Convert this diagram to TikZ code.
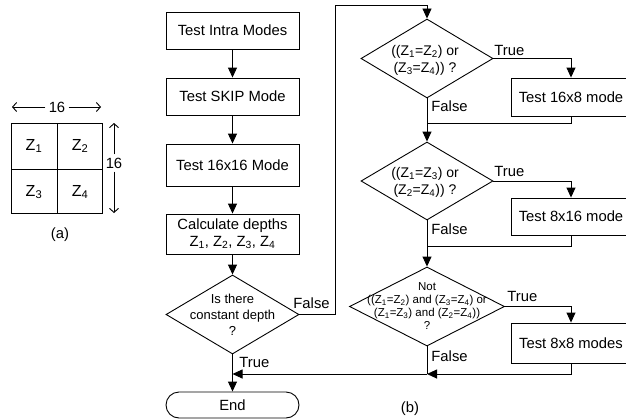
\documentclass[tikz,border=0pt]{standalone}
\usepackage{fontspec}
\setmainfont{Liberation Sans}
\usetikzlibrary{arrows.meta,shapes.geometric,calc}
\newcommand{\zz}[1]{Z\textsubscript{#1}}
\begin{document}
\begin{tikzpicture}[x=1pt,y=-1pt,line width=0.9pt,
  arr/.style={-{Triangle[length=10pt,width=9pt]}},
  barb/.style={-{Straight Barb[length=4pt,width=9pt]}},
  mainfont/.style={font=\fontsize{14.8}{17}\selectfont},
  box/.style={draw,mainfont,minimum width=133pt,inner sep=0pt,align=center},
  rbox/.style={draw,mainfont,minimum width=120pt,inner sep=0pt,align=center},
  dia/.style={draw,diamond,inner sep=0pt,minimum width=133pt,minimum height=79pt},
  lbl/.style={mainfont,inner sep=1pt},
  cellz/.style={font=\fontsize{16}{18}\selectfont,inner sep=0pt}
]
\useasboundingbox (0,0) rectangle (626,420);

% (a) grid
\draw (11,123) rectangle (102,213);
\draw (57,123) -- (57,213);
\draw (11,169) -- (102,169);
\node[cellz] (z1) at (34,146) {\zz{1}};
\node[cellz] (z2) at (80,146) {\zz{2}};
\node[cellz] (z3) at (34,192) {\zz{3}};
\node[cellz] (z4) at (80,192) {\zz{4}};
\node[mainfont,inner sep=3pt] (h16) at (57,107) {16};
\coordinate (hl) at (12,107);
\coordinate (hr) at (101,107);
\draw[barb] (h16.west) -- (hl);
\draw[barb] (h16.east) -- (hr);
\node[mainfont,inner sep=3pt] (v16) at (114,163) {16};
\coordinate (vt) at (114,123);
\coordinate (vb) at (114,213);
\draw[barb] (v16.north) -- (vt);
\draw[barb] (v16.south) -- (vb);
\node[mainfont] (la) at (60,235) {(a)};

% (b) left column
\node[box,minimum height=37pt] (b1) at (232.5,30.5) {Test Intra Modes};
\node[box,minimum height=37pt] (b2) at (232.5,96.5) {Test SKIP Mode};
\node[box,minimum height=42pt] (b3) at (232.5,165) {Test 16x16 Mode};
\node[box,minimum height=40pt] (b4) at (232.5,234) {Calculate depths\\\zz{1}, \zz{2}, \zz{3}, \zz{4}};
\node[dia] (d0) at (232.5,314.5) {};
\node[font=\fontsize{13}{16}\selectfont,align=center,inner sep=0pt] (d0t) at (d0.center) {Is there\\constant depth\\?};
\node[draw,mainfont,rounded corners=13pt,minimum width=133pt,minimum height=26pt,inner sep=0pt] (end) at (232.5,405) {End};

\draw[arr] (b1) -- (b2);
\draw[arr] (b2) -- (b3);
\draw[arr] (b3) -- (b4);
\draw[arr] (b4) -- (d0);
\draw[arr] (d0.south) -- (end.north);
\node[lbl,anchor=north west] (t0) at (238,356) {True};
\node[lbl,anchor=south west] (f0) at (292,310) {False};

% right column
\node[dia,minimum width=132pt] (d1) at (427,58.5) {};
\node[font=\fontsize{14}{17}\selectfont,align=center,inner sep=0pt] (d1t) at (425,60) {((\zz{1}=\zz{2}) or\\(\zz{3}=\zz{4})) ?};
\node[rbox,minimum height=38pt] (r1) at (571,97) {Test 16x8 mode};

\node[dia,minimum width=132pt,minimum height=78pt] (d2) at (427,181) {};
\node[font=\fontsize{14}{17}\selectfont,align=center,inner sep=0pt] (d2t) at (425,182) {((\zz{1}=\zz{3}) or\\(\zz{2}=\zz{4})) ?};
\node[rbox,minimum height=37pt] (r2) at (571,216.5) {Test 8x16 mode};

\node[dia,minimum width=155pt] (d3) at (427,306.5) {};
\node[font=\fontsize{11.5}{13}\selectfont,align=center,inner sep=0pt] (d3t) at (427,306) {Not\\((\zz{1}=\zz{2}) and (\zz{3}=\zz{4}) or\\(\zz{1}=\zz{3}) and (\zz{2}=\zz{4}))\\?};
\node[rbox,minimum height=40pt] (r3) at (571,343) {Test 8x8 modes};

\coordinate (c1) at (335,5);
\draw[arr] (d0.east) -| (c1) -| (d1.north);

\draw[arr] (d1.east) -| (r1.north);
\draw[arr] (d1.south) -- (d2.north);
\coordinate (m1) at (427,123);
\draw (r1.south) |- (m1);
\node[lbl,anchor=south west] (t1) at (493,57.5) {True};
\node[lbl,anchor=north west] (f1) at (430,99) {False};

\draw[arr] (d2.east) -| (r2.north);
\draw[arr] (d2.south) -- (d3.north);
\coordinate (m2) at (427,246);
\draw (r2.south) |- (m2);
\node[lbl,anchor=south west] (t2) at (493,178.5) {True};
\node[lbl,anchor=north west] (f2) at (430,222) {False};

\draw[arr] (d3.east) -| (r3.north);
\coordinate (m3) at (427,374);
\draw (d3.south) -- (m3);
\draw[arr] (r3.south) |- (m3);
\coordinate (m4) at (232.5,374);
\draw[arr] (m3) -- (m4);
\node[lbl,anchor=south west] (t3) at (506,303.5) {True};
\node[lbl,anchor=north west] (f3) at (430,349) {False};

\node[mainfont] (lb) at (410,409) {(b)};
\end{tikzpicture}
\end{document}
